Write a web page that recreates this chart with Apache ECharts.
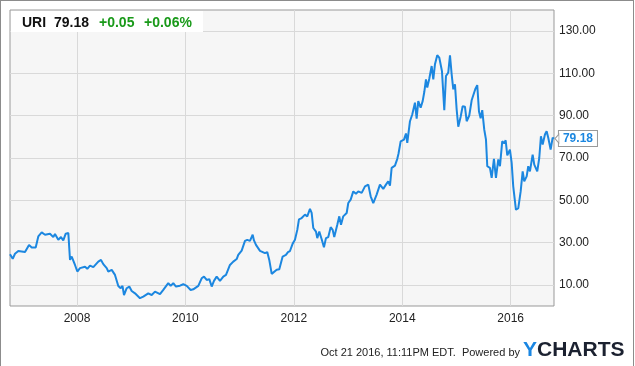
<!DOCTYPE html>
<html>
<head>
<meta charset="utf-8">
<script src="https://cdn.jsdelivr.net/npm/echarts@6/dist/echarts.min.js"></script>
<style>
  html, body { margin: 0; padding: 0; background: #fff; }
  #chart { position: absolute; left: 0; top: 0; width: 635px; height: 366px; }
  #frame {
    position: absolute; left: 0; top: 0; width: 634px; height: 366px;
    box-sizing: border-box; border: 1px solid #8c8c8c; border-bottom: none;
    pointer-events: none;
  }
</style>
</head>
<body>
<div id="chart"></div>
<div id="frame"></div>
<script>
// URI weekly close (decimal year -> price)
const years = [
  2006.764, 2006.814, 2006.856, 2006.917, 2007.041, 2007.115, 2007.164, 2007.238, 2007.286, 2007.349,
  2007.410, 2007.502, 2007.563, 2007.594, 2007.655, 2007.705, 2007.747, 2007.792, 2007.840, 2007.858,
  2007.871, 2007.902, 2007.932, 2007.963, 2008.006, 2008.055, 2008.148, 2008.190, 2008.240, 2008.301,
  2008.393, 2008.443, 2008.485, 2008.548, 2008.577, 2008.640, 2008.701, 2008.762, 2008.806, 2008.839,
  2008.867, 2008.917, 2008.965, 2009.009, 2009.070, 2009.162, 2009.223, 2009.315, 2009.378, 2009.439,
  2009.531, 2009.592, 2009.684, 2009.728, 2009.776, 2009.826, 2009.900, 2009.961, 2010.024, 2010.097,
  2010.145, 2010.238, 2010.300, 2010.343, 2010.393, 2010.441, 2010.485, 2010.527, 2010.577, 2010.638,
  2010.699, 2010.749, 2010.822, 2010.883, 2010.946, 2010.975, 2011.038, 2011.099, 2011.141, 2011.191,
  2011.241, 2011.265, 2011.302, 2011.376, 2011.468, 2011.510, 2011.547, 2011.592, 2011.621, 2011.684,
  2011.732, 2011.794, 2011.855, 2011.892, 2011.929, 2011.979, 2012.021, 2012.064, 2012.095, 2012.145,
  2012.206, 2012.248, 2012.298, 2012.329, 2012.359, 2012.409, 2012.433, 2012.470, 2012.514, 2012.556,
  2012.593, 2012.636, 2012.680, 2012.717, 2012.746, 2012.802, 2012.839, 2012.870, 2012.912, 2012.975,
  2013.005, 2013.049, 2013.097, 2013.147, 2013.189, 2013.252, 2013.313, 2013.374, 2013.418, 2013.466,
  2013.528, 2013.589, 2013.650, 2013.700, 2013.742, 2013.774, 2013.805, 2013.866, 2013.909, 2013.931,
  2013.971, 2014.032, 2014.069, 2014.093, 2014.143, 2014.185, 2014.235, 2014.266, 2014.296, 2014.340,
  2014.377, 2014.407, 2014.438, 2014.462, 2014.499, 2014.543, 2014.573, 2014.604, 2014.646, 2014.683,
  2014.696, 2014.733, 2014.776, 2014.807, 2014.849, 2014.881, 2014.912, 2014.942, 2014.973, 2015.004,
  2015.034, 2015.078, 2015.115, 2015.157, 2015.189, 2015.237, 2015.281, 2015.310, 2015.347, 2015.384,
  2015.416, 2015.447, 2015.476, 2015.513, 2015.545, 2015.569, 2015.618, 2015.650, 2015.692, 2015.729,
  2015.772, 2015.803, 2015.845, 2015.882, 2015.908, 2015.938, 2015.987, 2016.019, 2016.048, 2016.067,
  2016.098, 2016.141, 2016.185, 2016.222, 2016.251, 2016.296, 2016.325, 2016.356, 2016.406, 2016.436,
  2016.491, 2016.528, 2016.559, 2016.591, 2016.633, 2016.664, 2016.694, 2016.738, 2016.775, 2016.799
]
const prices = [
  24.5, 22.3, 24.7, 26.0, 25.5, 28.9, 27.7, 27.7, 32.9, 34.8,
  33.7, 34.2, 32.6, 34.0, 31.3, 32.6, 31.0, 34.2, 34.5, 33.7,
  21.8, 23.4, 22.6, 19.4, 16.3, 17.9, 18.6, 17.6, 19.1, 18.4,
  21.0, 21.8, 19.8, 17.9, 16.3, 17.1, 14.7, 9.5, 8.4, 9.5,
  5.2, 8.4, 9.2, 7.1, 6.0, 3.7, 4.4, 6.0, 5.2, 6.8,
  5.6, 7.6, 10.8, 9.5, 10.8, 9.2, 9.6, 10.3, 9.5, 7.6,
  7.9, 9.5, 13.1, 13.9, 12.3, 12.7, 9.2, 11.9, 13.9, 11.9,
  13.9, 14.7, 19.4, 21.0, 22.2, 24.2, 26.2, 30.8, 31.3, 30.8,
  33.7, 31.0, 28.9, 26.1, 25.0, 25.5, 21.8, 15.2, 15.8, 17.1,
  17.4, 23.4, 24.2, 25.5, 26.0, 29.5, 31.3, 36.0, 41.0, 41.6,
  43.2, 42.4, 45.9, 44.0, 36.9, 35.2, 32.1, 35.2, 31.6, 27.8,
  32.1, 32.6, 37.3, 36.0, 32.6, 38.4, 42.4, 38.4, 42.4, 44.0,
  48.7, 50.3, 54.2, 53.1, 54.2, 53.5, 56.6, 57.4, 51.9, 48.7,
  52.7, 57.4, 55.4, 57.4, 59.0, 56.9, 65.3, 66.4, 69.6, 72.0,
  77.9, 78.7, 81.6, 77.2, 87.4, 90.6, 96.2, 88.6, 96.9, 93.8,
  96.9, 101.2, 107.2, 103.3, 107.5, 113.5, 107.2, 114.3, 118.6, 117.5,
  115.9, 111.1, 92.6, 108.8, 110.4, 118.6, 109.6, 102.5, 104.8, 93.0,
  84.8, 89.5, 94.5, 94.3, 87.4, 90.1, 97.3, 96.5, 102.5, 104.5,
  92.0, 88.8, 92.6, 83.5, 78.7, 66.1, 65.3, 60.6, 69.6, 60.6,
  69.3, 66.1, 77.9, 76.9, 78.4, 71.2, 74.0, 67.7, 56.6, 57.4,
  45.5, 46.3, 54.2, 63.7, 59.0, 61.3, 66.1, 63.7, 71.6, 66.9,
  63.7, 70.0, 80.3, 76.4, 81.1, 82.7, 79.6, 74.0, 79.6, 79.18
]

const ticker = 'URI'
const change = '+0.05'
const changePct = '+0.06%'
const stamp = 'Oct 21 2016, 11:11PM EDT.  Powered by'

const xMin = 2006.764
const xMax = 2016.8
const yMin = 0
const yMax = 140

const FONT = 'Liberation Sans, Arial, sans-serif'
const BLUE = '#1c87e0'
const GREEN = '#1a9a1a'

const lastYear = years[years.length - 1]
const lastValue = prices[prices.length - 1]
const lastPrice = lastValue.toFixed(2)

const chart = echarts.init(document.getElementById('chart'))
chart.setOption({
  animation: false,
  textStyle: { fontFamily: FONT },
  grid: {
    left: 10, right: 81, top: 10, bottom: 60,
    show: true,
    backgroundColor: '#f6f6f6',
    borderColor: '#999',
    borderWidth: 1
  },
  xAxis: {
    type: 'value',
    min: xMin,
    max: xMax,
    splitNumber: 5,
    axisLine: { show: false },
    axisTick: { show: false },
    axisLabel: {
      color: '#222',
      fontSize: 12,
      margin: 7,
      showMinLabel: false,
      showMaxLabel: false,
      formatter: v => (Math.abs(v - Math.round(v)) < 1e-6 ? String(Math.round(v)) : '')
    },
    splitLine: { show: true, showMinLine: false, showMaxLine: false, lineStyle: { color: '#d9d9d9' } }
  },
  yAxis: {
    type: 'value',
    position: 'right',
    min: yMin,
    max: yMax,
    interval: 10,
    axisLine: { show: false },
    axisTick: { show: false },
    axisLabel: {
      color: '#222',
      fontSize: 12,
      margin: 5,
      formatter: v => (v % 20 === 10 ? v.toFixed(2) : '')
    },
    // only the odd tens (10, 30, ... 130) get a grid line
    splitLine: { lineStyle: { color: ['rgba(0,0,0,0)', '#d9d9d9'] } }
  },
  series: [
    {
      type: 'line',
      data: years.map((y, i) => [y, prices[i]]),
      showSymbol: false,
      symbol: 'none',
      lineStyle: { color: BLUE, width: 2 },
      endLabel: {
        show: true,
        formatter: () => lastPrice,
        color: BLUE,
        fontWeight: 'bold',
        fontSize: 12,
        backgroundColor: '#fff',
        borderColor: '#999',
        borderWidth: 1,
        padding: [2, 4, 1, 4],
        distance: 5
      },
      markPoint: {
        silent: true,
        symbol: 'triangle',
        symbolSize: [9, 4],
        symbolRotate: 90,
        symbolOffset: [3, 0],
        itemStyle: { color: '#fff', borderColor: '#999', borderWidth: 1 },
        label: { show: false },
        data: [{ coord: [lastYear, lastValue] }]
      }
    }
  ],
  graphic: [
    { type: 'rect', shape: { x: 11, y: 11, width: 192, height: 21 }, style: { fill: '#fff' }, z: 10 },
    { type: 'text', x: 22, y: 23.5, z: 11, style: { text: ticker, font: 'bold 14px ' + FONT, fill: '#111', verticalAlign: 'middle' } },
    { type: 'text', x: 54, y: 23.5, z: 11, style: { text: lastPrice, font: 'bold 14px ' + FONT, fill: '#111', verticalAlign: 'middle' } },
    { type: 'text', x: 99, y: 23.5, z: 11, style: { text: change, font: 'bold 14px ' + FONT, fill: GREEN, verticalAlign: 'middle' } },
    { type: 'text', x: 144, y: 23.5, z: 11, style: { text: changePct, font: 'bold 14px ' + FONT, fill: GREEN, verticalAlign: 'middle' } },
    { type: 'text', x: 520, y: 353, style: { text: stamp, font: '11px ' + FONT, fill: '#222', align: 'right', verticalAlign: 'middle' } },
    {
      type: 'text', x: 523, y: 350,
      style: {
        text: '{y|Y}{c|CHARTS}',
        verticalAlign: 'middle',
        rich: {
          y: { font: 'bold 21px ' + FONT, fill: '#1a86e2' },
          c: { font: 'bold 21px ' + FONT, fill: '#1b2130' }
        }
      }
    }
  ]
})
</script>
</body>
</html>
